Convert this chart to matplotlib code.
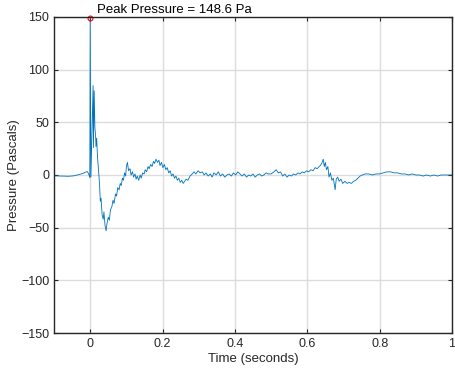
import matplotlib
import matplotlib.pyplot as plt

matplotlib.use("Agg")

plt.rcParams["font.family"] = ["Liberation Sans", "DejaVu Sans"]

# pressure trace, time in seconds and pressure in pascals
time_s = [
    -0.100, -0.080, -0.060, -0.045, -0.030, -0.020, -0.012, -0.008, -0.004, -0.001,
    0.000, 0.002, 0.005, 0.008, 0.009, 0.011, 0.013, 0.015, 0.016, 0.018,
    0.020, 0.023, 0.026, 0.028, 0.030, 0.033, 0.036, 0.038, 0.041, 0.044,
    0.046, 0.050, 0.053, 0.056, 0.060, 0.063, 0.066, 0.070, 0.073, 0.076,
    0.080, 0.083, 0.086, 0.089, 0.092, 0.095, 0.098, 0.100, 0.103, 0.106,
    0.110, 0.113, 0.117, 0.120, 0.124, 0.127, 0.130, 0.134, 0.138, 0.141,
    0.145, 0.149, 0.152, 0.156, 0.160, 0.163, 0.167, 0.171, 0.175, 0.178,
    0.182, 0.186, 0.190, 0.193, 0.197, 0.201, 0.205, 0.209, 0.213, 0.217,
    0.221, 0.225, 0.229, 0.233, 0.237, 0.241, 0.245, 0.249, 0.253, 0.257,
    0.261, 0.265, 0.270, 0.276, 0.282, 0.287, 0.292, 0.298, 0.304, 0.310,
    0.315, 0.320, 0.326, 0.332, 0.337, 0.342, 0.348, 0.354, 0.360, 0.366,
    0.372, 0.378, 0.384, 0.390, 0.396, 0.402, 0.408, 0.414, 0.420, 0.426,
    0.432, 0.438, 0.444, 0.450, 0.456, 0.462, 0.468, 0.474, 0.480, 0.486,
    0.492, 0.500, 0.508, 0.514, 0.520, 0.526, 0.532, 0.538, 0.544, 0.550,
    0.556, 0.562, 0.568, 0.574, 0.580, 0.586, 0.592, 0.598, 0.604, 0.610,
    0.616, 0.622, 0.627, 0.630, 0.636, 0.640, 0.644, 0.647, 0.650, 0.653,
    0.657, 0.660, 0.664, 0.668, 0.672, 0.677, 0.680, 0.684, 0.688, 0.693,
    0.698, 0.704, 0.710, 0.716, 0.722, 0.728, 0.734, 0.740, 0.746, 0.752,
    0.760, 0.770, 0.780, 0.790, 0.800, 0.810, 0.820, 0.830, 0.840, 0.850,
    0.860, 0.870, 0.880, 0.890, 0.900, 0.910, 0.920, 0.930, 0.940, 0.950,
    0.960, 0.970, 0.980, 0.990, 1.000,
]
pressure_pa = [
    -0.8, -1.0, -1.2, -0.8, 0.5, 1.5, 2.8, 3.2, 1.0, -2.5,
    148.6, -2.0, 40.0, 85.0, 26.0, 80.0, 45.0, 37.0, 27.0, 35.0,
    18.0, 5.0, -10.0, -25.0, -22.0, -38.0, -42.0, -35.0, -48.0, -53.0,
    -47.0, -40.0, -43.0, -33.0, -30.0, -24.0, -27.0, -18.0, -20.0, -12.0,
    -14.0, -8.0, -10.0, -3.0, -5.0, 2.0, -1.0, 8.0, 12.0, 4.0,
    6.0, 0.0, 3.0, -2.0, 1.0, -4.0, -1.0, -5.0, 0.0, -3.0,
    2.0, 1.0, 5.0, 3.0, 8.0, 6.0, 10.0, 8.0, 13.0, 11.0,
    15.0, 12.0, 14.0, 9.0, 12.0, 7.0, 10.0, 5.0, 7.0, 2.0,
    4.0, -1.0, 1.0, -3.0, -1.0, -5.0, -3.0, -7.0, -5.0, -8.0,
    -6.0, -4.0, -5.0, -1.0, 1.0, 3.0, 1.0, 4.0, 2.0, 3.0,
    0.0, 2.0, -1.0, 1.0, -2.0, 2.0, 0.0, 3.0, -1.0, 1.0,
    -2.0, 0.0, 1.0, -1.0, 2.0, 0.0, 3.0, 1.0, -1.0, 1.0,
    -2.0, 0.0, -1.0, 1.0, -2.0, 0.0, 1.0, -1.0, 0.0, 2.0,
    1.0, 1.0, 3.0, 5.0, 2.0, 3.0, -1.0, 1.0, -2.0, 0.0,
    -1.0, 1.0, 0.0, 2.0, 1.0, 3.0, 2.0, 4.0, 3.0, 5.0,
    4.0, 7.0, 6.0, 7.0, 9.0, 11.0, 15.0, 8.0, 12.0, 5.0,
    8.0, -2.0, 2.0, -5.0, -3.0, -14.0, -4.0, -2.0, -6.0, -4.0,
    -8.0, -6.0, -8.0, -7.0, -8.0, -6.0, -5.0, -3.0, -1.0, 0.0,
    1.0, 1.0, 0.0, 1.0, 1.0, 2.0, 3.0, 3.0, 2.0, 2.0,
    1.0, 1.0, 0.0, 1.0, 0.0, 0.0, -1.0, 0.0, -1.0, 0.0,
    -1.0, 0.0, 0.0, 0.0, 0.0,
]

peak_time = 0.0
peak_value = 148.6

line_color = "#0072BD"
axis_color = "#262626"

fig = plt.figure(figsize=(4.55, 3.75), dpi=100)
ax = fig.add_axes([0.1187, 0.112, 0.8747, 0.8427])

ax.plot(time_s, pressure_pa, color=line_color, linewidth=0.6)
ax.plot(peak_time, peak_value, marker="o", markersize=3.5, color="red",
        markerfacecolor="none", markeredgewidth=0.8, clip_on=False)
ax.text(peak_time + 0.019, peak_value + 2.5, f"Peak Pressure = {peak_value} Pa",
        fontsize=9.5, ha="left", va="bottom", color="black")

ax.set_xlim(-0.1, 1.0)
ax.set_ylim(-150, 150)
ax.set_xticks([0, 0.2, 0.4, 0.6, 0.8, 1])
ax.set_xticklabels(["0", "0.2", "0.4", "0.6", "0.8", "1"])
ax.set_yticks([-150, -100, -50, 0, 50, 100, 150])

ax.grid(True, color="#dcdcdc", linewidth=1.0)
ax.set_axisbelow(True)
ax.tick_params(direction="in", length=3, width=0.8, colors=axis_color,
               labelsize=9, top=True, right=True)
for side in ax.spines.values():
    side.set_color(axis_color)
    side.set_linewidth(1.0)

ax.set_xlabel("Time (seconds)", fontsize=9.5, color=axis_color, labelpad=2)
ax.set_ylabel("Pressure (Pascals)", fontsize=9.5, color=axis_color)
ax.yaxis.set_label_coords(-0.085, 0.5)

fig.savefig("out.png", dpi=100)
plt.close(fig)
